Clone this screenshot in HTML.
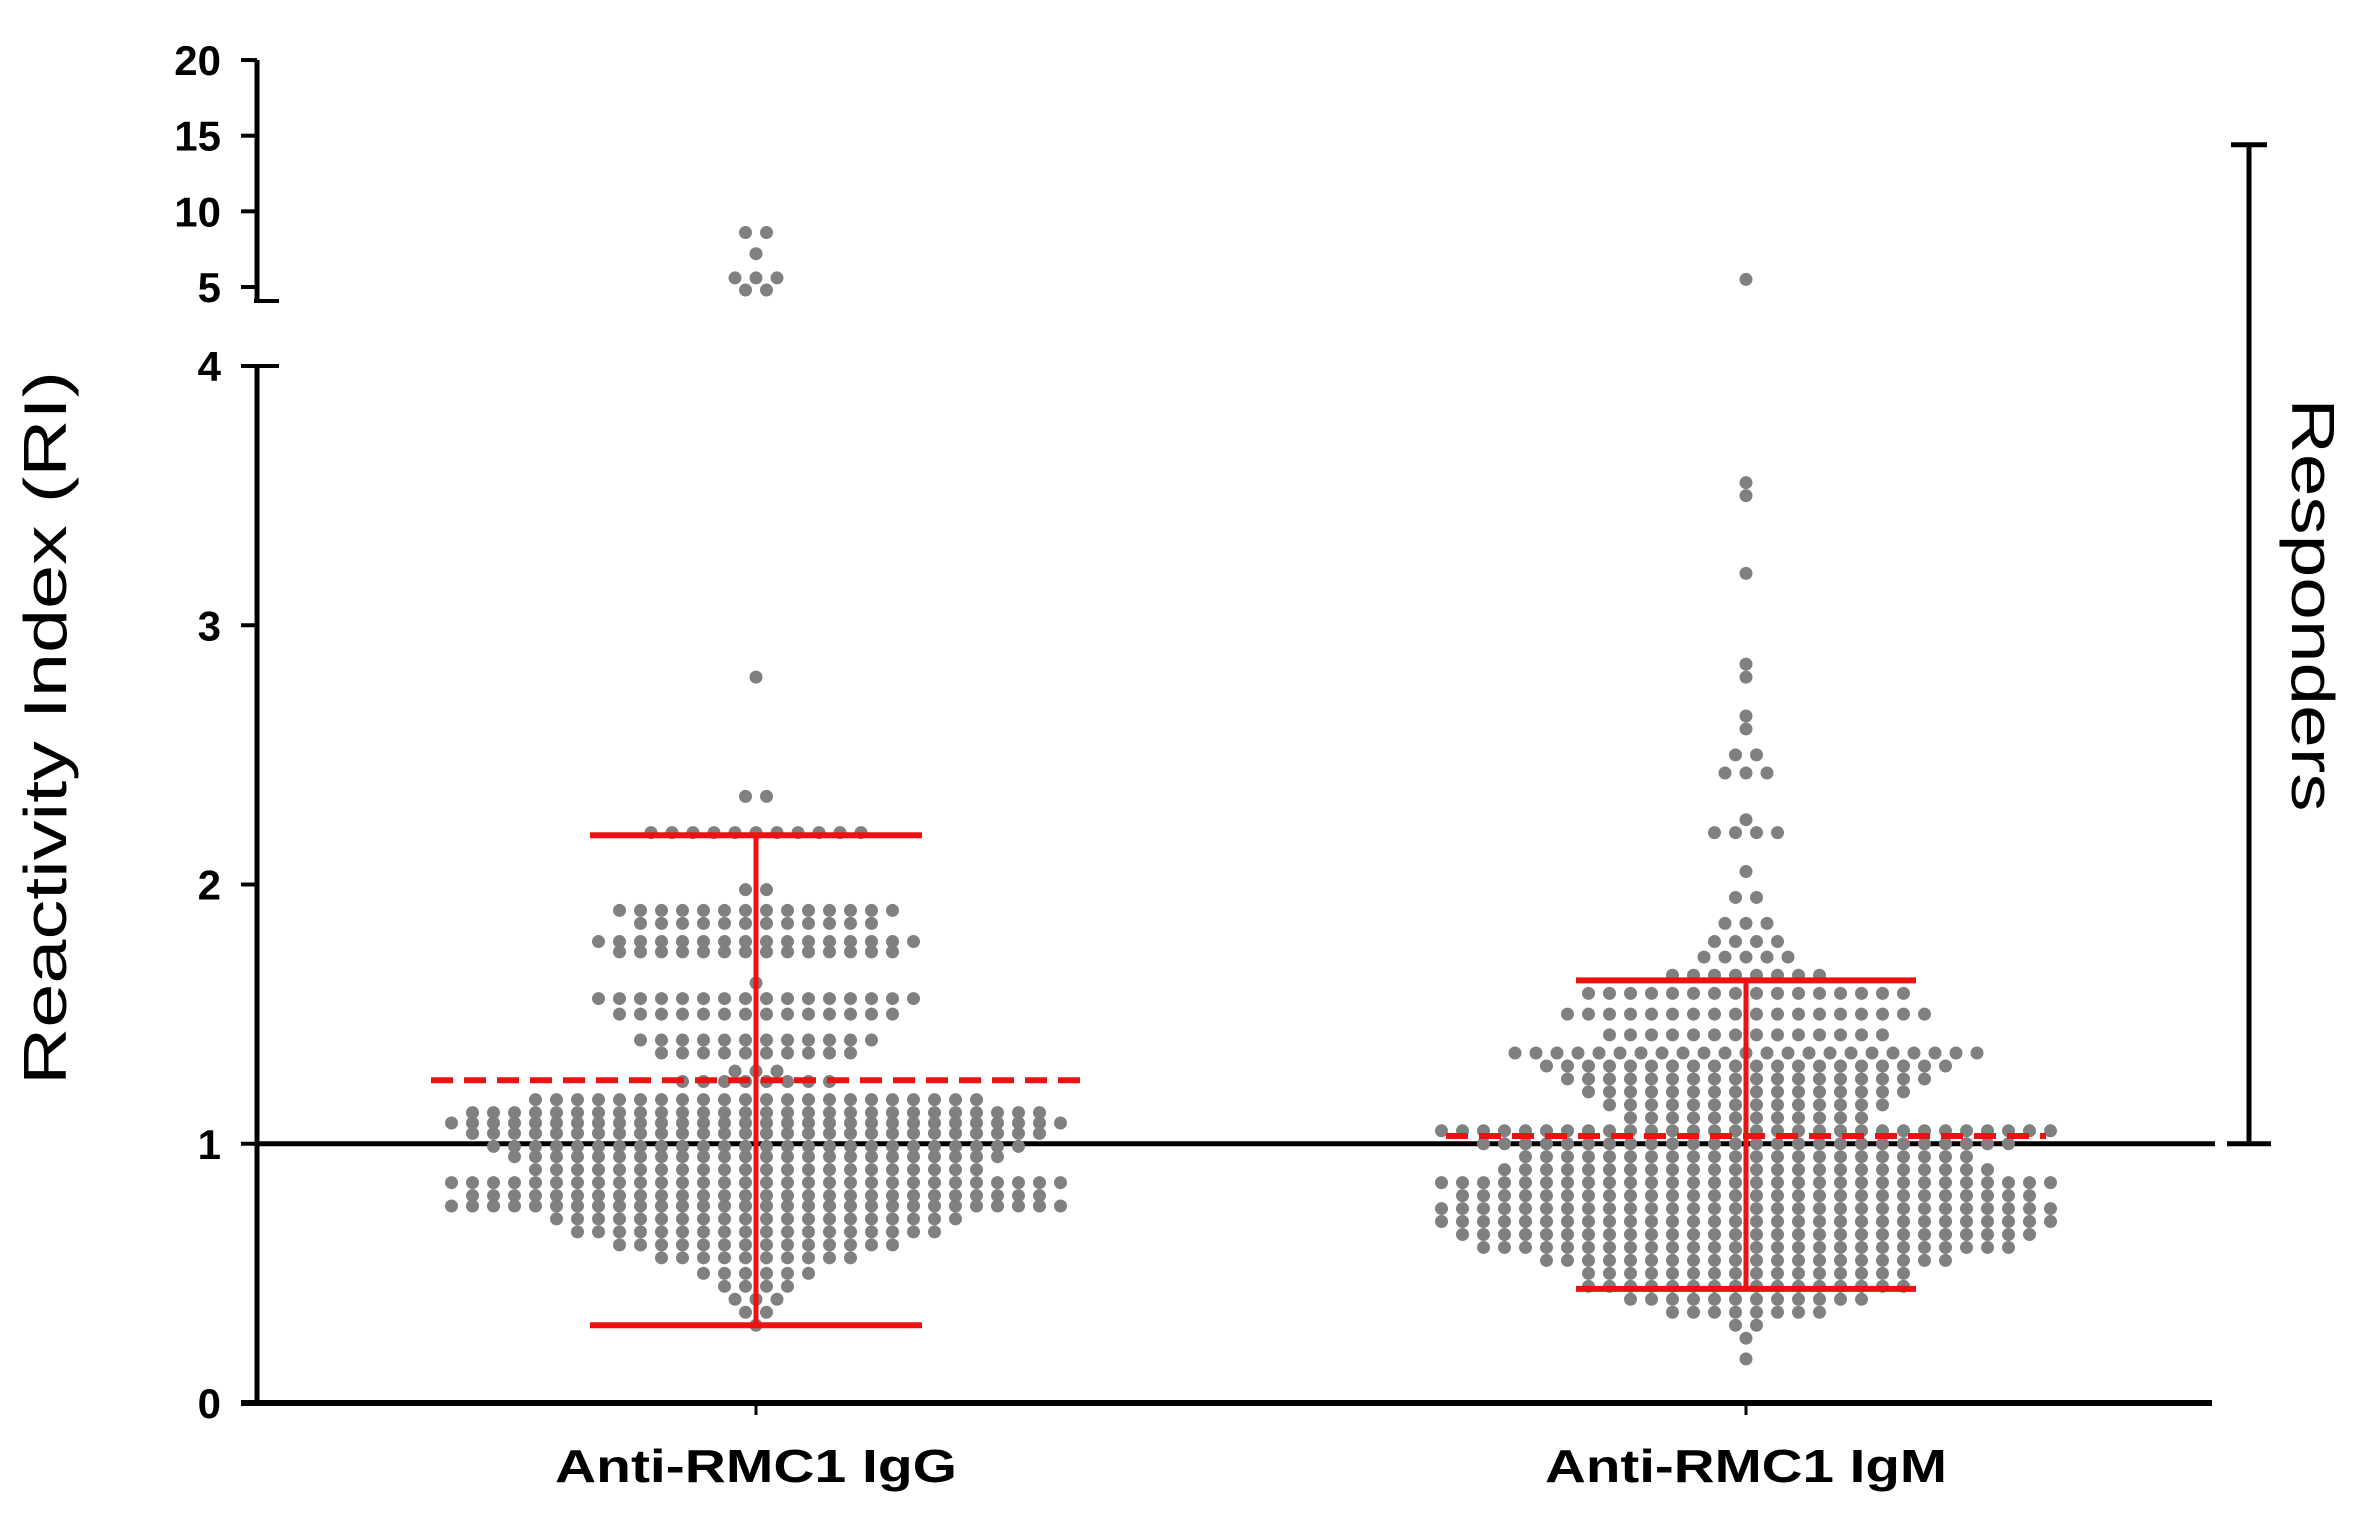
<!DOCTYPE html>
<html><head><meta charset="utf-8"><style>
html,body{margin:0;padding:0;background:#fff;}
svg{display:block;font-family:"Liberation Sans",Arial,sans-serif;}
</style></head><body>
<svg id="chart" width="2371" height="1513" viewBox="0 0 2371 1513" xmlns="http://www.w3.org/2000/svg">
<g id="axes"></g>
<g id="dots"></g>
<g id="stats"></g>
<text transform="translate(66,728) rotate(-90)" text-anchor="middle" font-size="60" textLength="714" lengthAdjust="spacingAndGlyphs" fill="#000">Reactivity Index (RI)</text>
<text transform="translate(2292,605) rotate(90)" text-anchor="middle" font-size="60" textLength="413" lengthAdjust="spacingAndGlyphs" fill="#000">Responders</text>
</svg>
<script>
// ---- data ----
const categories = ["Anti-RMC1 IgG", "Anti-RMC1 IgM"];
const lowerTicks = [0, 1, 2, 3, 4];
const upperTicks = [5, 10, 15, 20];
const igGValues = [8.6,7.2,5.6,4.8,2.8,2.34,2.2,1.98,1.9,1.85,1.78,1.74,1.62,1.56,1.5,1.4,1.35,1.28,1.24,1.17,1.12,1.08,1.04,0.99,0.95,0.9,0.85,0.8,0.76,0.71,0.66,0.61,0.56,0.5,0.45,0.4,0.35,0.3];
const igGCounts = [2,1,3,2,1,2,11,2,14,12,16,14,1,16,14,12,10,3,8,22,28,30,28,26,24,22,30,28,30,20,18,14,10,6,4,3,2,1];
const igMValues = [5.5,3.55,3.5,3.2,2.85,2.8,2.65,2.6,2.5,2.43,2.25,2.2,2.05,1.95,1.85,1.78,1.72,1.65,1.58,1.5,1.42,1.35,1.3,1.25,1.2,1.15,1.1,1.05,1.0,0.95,0.9,0.85,0.8,0.75,0.7,0.65,0.6,0.55,0.5,0.45,0.4,0.35,0.3,0.25,0.17];
const igMCounts = [1,1,1,1,1,1,1,1,2,3,1,4,1,2,3,4,5,8,16,18,14,23,20,18,16,14,12,30,26,22,24,30,28,30,30,28,26,20,16,16,12,8,2,1,1];
const means = [1.245, 1.03];
const sdHigh = [2.19, 1.63];
const sdLow = [0.3, 0.44];
const threshold = 1.0;
const respondersTop = 14.4;

// ---- scales ----
const NS = "http://www.w3.org/2000/svg";
const axisX = 257, axisRight = 2212;
const catX = [756, 1746];
function y(v){ return v >= 4.5 ? 287 - (v-5)*15.13 : 1403 - v*259.25; }
function mk(parent, tag, attrs){ const e=document.createElementNS(NS,tag); for(const k in attrs) e.setAttribute(k,attrs[k]); parent.appendChild(e); return e; }

const axes = document.getElementById('axes');
let e;
e = mk(axes,'line',{x1:axisX,y1:y(20),x2:axisX,y2:300,stroke:'#000','stroke-width':5});


e = mk(axes,'line',{x1:axisX-3,y1:301,x2:axisX+22,y2:301,stroke:'#000','stroke-width':4});


e = mk(axes,'line',{x1:axisX,y1:y(4),x2:axisX,y2:y(0)+2,stroke:'#000','stroke-width':5});


e = mk(axes,'line',{x1:axisX-16,y1:y(0),x2:axisRight,y2:y(0),stroke:'#000','stroke-width':6});


lowerTicks.concat(upperTicks).forEach(t=>{
  const yy=y(t);
  e = mk(axes,'line',{x1:axisX-16,y1:yy,x2:axisX+(t===4?22:0),y2:yy,stroke:'#000','stroke-width':4});
  
  
  e = mk(axes,'text',{x:221,y:yy+15,'text-anchor':'end','font-size':42,'font-weight':'bold',fill:'#000'});
  e.textContent = t;
  
  
});
categories.forEach((c,i)=>{
  e = mk(axes,'line',{x1:catX[i],y1:y(0),x2:catX[i],y2:y(0)+12,stroke:'#000','stroke-width':3});
  
  
  e = mk(axes,'text',{x:catX[i],y:1482,'text-anchor':'middle','font-size':46,'font-weight':'bold',fill:'#000',textLength:402,lengthAdjust:'spacingAndGlyphs'});
  e.textContent = c;
  
  
});

// ---- dots ----
const dots = document.getElementById('dots');
const spacing = 21;
[[igGValues,igGCounts],[igMValues,igMCounts]].forEach(([vals,cnts],gi)=>{
  vals.forEach((v,ri)=>{
    const n=cnts[ri];
    for(let k=0;k<n;k++){
      const cx = catX[gi] + (k-(n-1)/2)*spacing;
      const d = mk(dots,'circle',{cx:cx,cy:y(v),r:6.5,fill:'#808080'});
      
      
    }
  });
});

// ---- threshold & responders ----
e = mk(axes,'line',{x1:axisX,y1:y(threshold),x2:2215,y2:y(threshold),stroke:'#000','stroke-width':5});


e = mk(axes,'line',{x1:2249,y1:y(respondersTop),x2:2249,y2:y(threshold),stroke:'#000','stroke-width':5});


e = mk(axes,'line',{x1:2231,y1:y(respondersTop),x2:2267,y2:y(respondersTop),stroke:'#000','stroke-width':5});


e = mk(axes,'line',{x1:2227,y1:y(threshold),x2:2271,y2:y(threshold),stroke:'#000','stroke-width':5});



// ---- stats ----
const stats = document.getElementById('stats');
const meanHalf = [325, 300], capHalf = [166, 170];
categories.forEach((c,i)=>{
  const red='#ee1111';
  e = mk(stats,'line',{x1:catX[i]-meanHalf[i],y1:y(means[i]),x2:catX[i]+meanHalf[i],y2:y(means[i]),stroke:red,'stroke-width':6,'stroke-dasharray':'22 11'});
  
  
  e = mk(stats,'line',{x1:catX[i],y1:y(sdHigh[i]),x2:catX[i],y2:y(sdLow[i]),stroke:red,'stroke-width':5});
  
  
  e = mk(stats,'line',{x1:catX[i]-capHalf[i],y1:y(sdHigh[i]),x2:catX[i]+capHalf[i],y2:y(sdHigh[i]),stroke:red,'stroke-width':6});
  
  
  e = mk(stats,'line',{x1:catX[i]-capHalf[i],y1:y(sdLow[i]),x2:catX[i]+capHalf[i],y2:y(sdLow[i]),stroke:red,'stroke-width':6});
  
  
});
</script>
</body></html>
